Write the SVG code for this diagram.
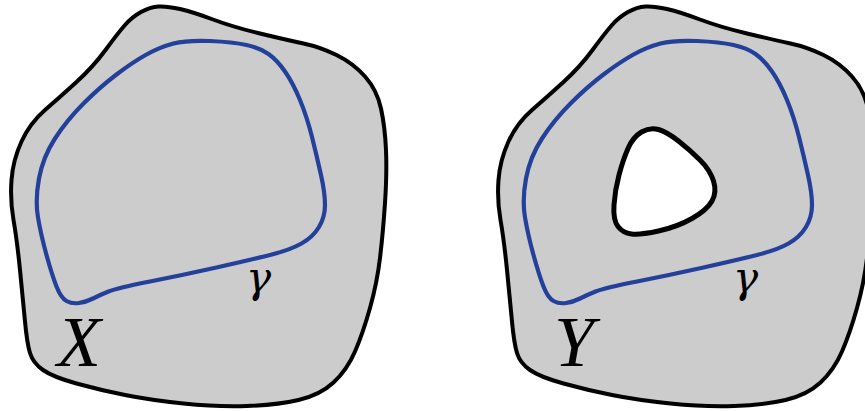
<svg xmlns="http://www.w3.org/2000/svg" width="865" height="411" viewBox="0 0 865 411">
<defs>
<style>
.blob{fill:#cccccc;stroke:#000;stroke-width:4;stroke-linejoin:round}
.loop{fill:none;stroke:#23409a;stroke-width:4.2;stroke-linejoin:round}
.hole{fill:#fff;stroke:#000;stroke-width:5;stroke-linejoin:round}
.lbl{font-family:"Liberation Serif","Times New Roman",serif;font-style:italic;fill:#000}
.g{font-family:"DejaVu Serif",serif;font-style:italic;fill:#000}
</style>
<path id="outline" d="M105.5,50 Q118,33 125,25 Q132,17 141,12 Q150,7 158.5,6.5 Q167,6 180,9 Q193,12 213,19.5 Q233,27 260,33.5 Q287,40 303.5,43.5 Q320,47 336.5,55 Q353,63 365,76.5 Q377,90 381,108.5 Q385,127 386,150 Q387,173 385,203 Q383,233 380,258 Q377,283 370,308 Q363,333 355,351.5 Q347,370 333.5,382.5 Q320,395 298.5,400 Q277,405 247,406 Q217,407 183.5,403.5 Q150,400 125,395 Q100,390 76.5,383.5 Q53,377 43,370 Q33,363 30,353 Q27,343 25,321.5 Q23,300 20,270 Q17,240 13.5,220 Q10,200 11.5,180 Q13,160 21.5,141.5 Q30,123 45,110 Q60,97 76.5,82 Q93,67 105.5,50 Z"/>
<path id="gamma" d="M79,303 Q72,304 66.5,301 Q61,298 56.5,286.5 Q52,275 46.5,255 Q41,235 38,217.5 Q35,200 39,178.5 Q43,157 55,138.5 Q67,120 83.5,103.5 Q100,87 116.5,74.5 Q133,62 146.5,54.5 Q160,47 173.5,43.5 Q187,40 210,41 Q233,42 246.5,45 Q260,48 268.5,54 Q277,60 285,71.5 Q293,83 300,100 Q307,117 312,137 Q317,157 321,175 Q325,193 325,205 Q325,217 319,227 Q313,237 301.5,243.5 Q290,250 270,255 Q250,260 216.5,267.5 Q183,275 150,281.5 Q117,288 108.5,291.5 Q100,295 93,298.5 Q86,302 79,303 Z"/>
</defs>
<g id="space-X">
<use href="#outline" class="blob"/>
<use href="#gamma" class="loop"/>
<text class="g" x="246" y="292" font-size="42">γ</text>
<text class="lbl" x="57" y="366" font-size="72">X</text>
</g>
<g id="space-Y">
<use href="#outline" class="blob" transform="translate(487,0)"/>
<use href="#gamma" class="loop" transform="translate(487,0)"/>
<path class="hole" d="M641.5,132 Q650,127 658.5,129.5 Q667,132 678.5,141 Q690,150 700,160 Q710,170 713.5,181 Q717,192 712,201 Q707,210 692,218.5 Q677,227 658.5,231 Q640,235 631.5,234 Q623,233 618,226.5 Q613,220 614,205 Q615,190 619,175 Q623,160 628,148.5 Q633,137 641.5,132 Z"/>
<text class="g" x="733" y="292" font-size="42">γ</text>
<text class="lbl" x="554" y="366" font-size="72">Y</text>
</g>
<g id="connectors"/>
</svg>
